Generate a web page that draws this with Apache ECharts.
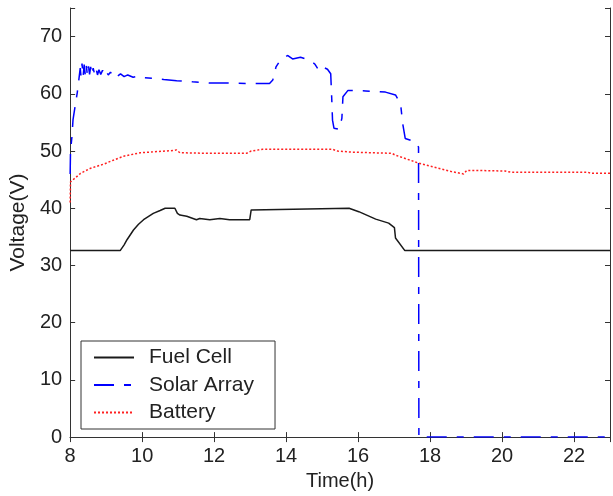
<!DOCTYPE html>
<html>
<head>
<meta charset="utf-8">
<script src="https://cdn.jsdelivr.net/npm/echarts@6/dist/echarts.min.js"></script>
<style>
  html, body { margin: 0; padding: 0; background: #fff; }
  #chart { width: 613px; height: 496px; }
</style>
</head>
<body>
<div id="chart"></div>
<script>
// values (time in h, voltage in V)
const fuelCellTime = [8, 9.39, 9.5, 9.58, 9.76, 9.9, 10.04, 10.31, 10.5, 10.64, 10.91, 10.98, 11.05, 11.24, 11.51, 11.6, 11.88, 12.16, 12.43, 12.99, 13.03, 13.08, 15.75, 16.02, 16.49, 16.85, 17.01, 17.04, 17.3, 23];
const fuelCellVolt = [32.6, 32.6, 33.6, 34.5, 36.2, 37.2, 38.0, 39.1, 39.6, 40.0, 40.0, 39.1, 38.8, 38.6, 38.0, 38.2, 38.0, 38.2, 38.0, 38.0, 39.7, 40.0, 40.0, 39.4, 38.1, 37.4, 36.6, 34.8, 32.6, 32.6];

const solarTime = [8.0, 8.01, 8.05, 8.08, 8.15, 8.2, 8.24, 8.28, 8.3, 8.33, 8.36, 8.39, 8.42, 8.45, 8.48, 8.51, 8.54, 8.57, 8.6, 8.64, 8.68, 8.72, 8.76, 8.8, 8.85, 8.9, 8.95, 9.0, 9.06, 9.12, 9.18, 9.25, 9.32, 9.4, 9.5, 9.6, 9.75, 9.9, 10.05, 10.3, 10.6, 10.96, 11.4, 11.88, 12.4, 13.03, 13.54, 13.63, 13.72, 13.82, 14.04, 14.18, 14.4, 14.64, 14.8, 14.92, 15.05, 15.15, 15.24, 15.27, 15.29, 15.33, 15.47, 15.55, 15.58, 15.72, 16.21, 16.76, 17.04, 17.18, 17.24, 17.31, 17.59, 17.68, 17.69, 18.0, 20.0, 23.0];
const solarVolt = [46, 50, 52.5, 55.5, 58.3, 60.3, 62.4, 64.5, 63.2, 65.3, 63.0, 65.1, 63.3, 64.9, 63.2, 64.8, 63.4, 64.7, 63.3, 64.5, 63.4, 64.4, 63.3, 64.2, 63.4, 64.1, 63.3, 63.9, 63.3, 63.8, 63.2, 63.6, 63.1, 63.5, 63.0, 63.3, 62.9, 63.1, 62.8, 62.7, 62.5, 62.3, 62.1, 61.9, 61.9, 61.8, 61.8, 62.4, 64.7, 65.7, 66.7, 66.1, 66.4, 65.9, 65.2, 64.0, 64.6, 64.3, 63.5, 58.9, 55.4, 54.0, 53.8, 55.7, 59.5, 60.6, 60.5, 60.3, 59.8, 58.3, 54.8, 52.2, 51.6, 50.7, 0, 0, 0, 0];

const batteryTime = [8, 8.01, 8.29, 8.57, 8.93, 9.2, 9.49, 9.95, 10.41, 10.87, 10.95, 11.05, 11.88, 12.9, 13.03, 13.35, 14.64, 15.29, 15.43, 15.84, 16.94, 17.03, 17.31, 17.68, 18.23, 18.6, 18.93, 19.02, 19.34, 20.08, 20.25, 22.38, 22.47, 23];
const batteryVolt = [41, 44.6, 46.1, 47.0, 47.7, 48.4, 49.1, 49.7, 49.9, 50.1, 50.2, 49.7, 49.6, 49.6, 50.0, 50.3, 50.3, 50.3, 50.0, 49.8, 49.6, 49.3, 48.7, 47.9, 47.0, 46.4, 46.0, 46.6, 46.6, 46.5, 46.3, 46.3, 46.1, 46.1];

const seriesNames = ["Fuel Cell", "Solar Array", "Battery"];

const zip = (xs, ys) => xs.map((x, i) => [x, ys[i]]);

const font = "'Liberation Sans', Arial, sans-serif";
const axisColor = "#333";
const textColor = "#222";

const chart = echarts.init(document.getElementById("chart"));

const axisBase = {
  type: "value",
  axisLine: { show: true, lineStyle: { color: axisColor, width: 1 } },
  axisTick: { show: true, inside: true, length: 5, lineStyle: { color: axisColor } },
  splitLine: { show: false },
};

const option = {
  animation: false,
  backgroundColor: "#fff",
  grid: { left: 70, right: 1, top: 8, bottom: 58 },
  xAxis: [
    {
      ...axisBase,
      min: 8,
      max: 23,
      interval: 2,
      name: "Time(h)",
      nameLocation: "middle",
      nameGap: 33,
      nameTextStyle: { fontSize: 20, fontFamily: font, color: textColor },
      axisLabel: {
        fontSize: 20,
        fontFamily: font,
        color: textColor,
        margin: 9,
        formatter: (v) => (v > 22 ? "" : v),
      },
    },
    {
      ...axisBase,
      position: "top",
      min: 8,
      max: 23,
      interval: 2,
      axisLabel: { show: false },
    },
  ],
  yAxis: [
    {
      ...axisBase,
      min: 0,
      max: 75,
      interval: 10,
      name: "Voltage(V)",
      nameLocation: "middle",
      nameGap: 40,
      nameTextStyle: { fontSize: 21, fontFamily: font, color: textColor },
      axisLabel: {
        fontSize: 20,
        fontFamily: font,
        color: textColor,
        margin: 8,
        formatter: (v) => (v > 70 ? "" : v),
      },
    },
    {
      ...axisBase,
      position: "right",
      min: 0,
      max: 75,
      interval: 10,
      axisLabel: { show: false },
    },
  ],
  legend: {
    orient: "vertical",
    left: 81,
    top: 341,
    data: seriesNames,
    itemWidth: 40,
    itemHeight: 20,
    itemGap: 6.5,
    padding: [6, 21, 6, 12],
    borderColor: axisColor,
    borderWidth: 1,
    backgroundColor: "#fff",
    itemStyle: { opacity: 0 },
    textStyle: { fontSize: 21, fontFamily: font, color: textColor, padding: [0, 0, 0, 10] },
  },
  series: [
    {
      name: seriesNames[0],
      type: "line",
      data: zip(fuelCellTime, fuelCellVolt),
      symbol: "none",
      lineStyle: { color: "#1a1a1a", width: 1.5 },
      itemStyle: { color: "#1a1a1a" },
    },
    {
      name: seriesNames[1],
      type: "line",
      data: zip(solarTime, solarVolt),
      symbol: "none",
      lineStyle: { color: "#0000ff", width: 1.5, type: [20, 10, 7, 10] },
      itemStyle: { color: "#0000ff" },
    },
    {
      name: seriesNames[2],
      type: "line",
      data: zip(batteryTime, batteryVolt),
      symbol: "none",
      lineStyle: { color: "#ff2020", width: 1.5, type: [2, 2] },
      itemStyle: { color: "#ff2020" },
    },
  ],
};

chart.setOption(option);
</script>
</body>
</html>
